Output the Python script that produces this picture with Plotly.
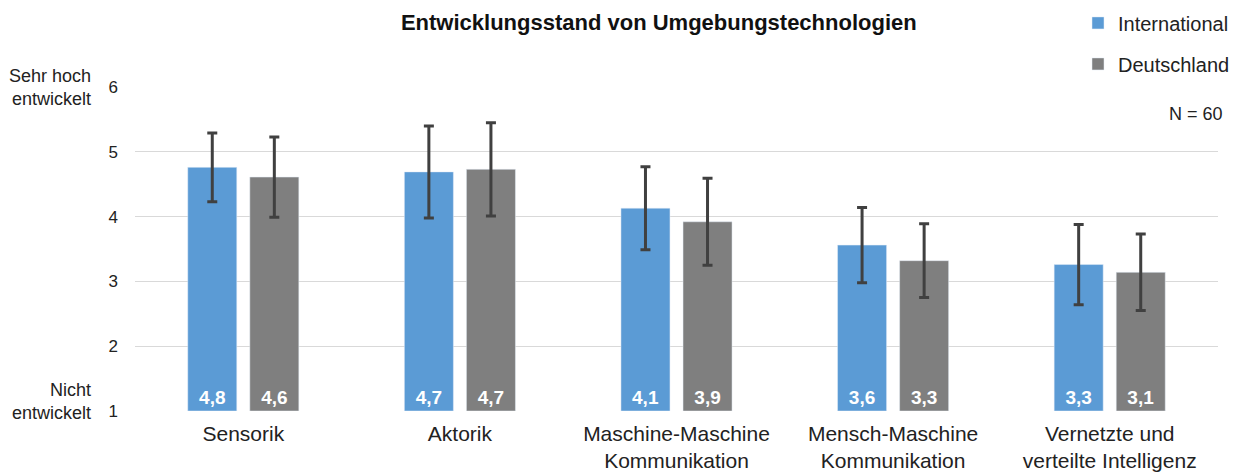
import plotly.graph_objects as go

categories = ["Sensorik", "Aktorik", "Maschine-Maschine<br>Kommunikation",
              "Mensch-Maschine<br>Kommunikation", "Vernetzte und<br>verteilte Intelligenz"]
international = [4.76, 4.69, 4.13, 3.56, 3.26]
international_err = [0.53, 0.71, 0.64, 0.58, 0.62]
deutschland = [4.61, 4.73, 3.92, 3.32, 3.14]
deutschland_err = [0.62, 0.72, 0.67, 0.57, 0.59]
y_ticks = [1, 2, 3, 4, 5, 6]
scale_min = 1  # bars start at the bottom of the 1..6 scale

FONT = "Liberation Sans, Arial, sans-serif"


def labels(vals):
    return [f"{v:.1f}".replace(".", ",") for v in vals]


def add_series(name, vals, errs, color, group):
    fig.add_trace(go.Bar(
        name=name, x=categories, y=[v - scale_min for v in vals], base=scale_min,
        marker=dict(color=color),
        error_y=dict(type="data", array=errs, color="#404040", thickness=3, width=5),
        text=labels(vals), textposition="inside", insidetextanchor="start",
        textangle=0, constraintext="none",
        textfont=dict(color="white", size=19, family=FONT, weight="bold"),
        legendgroup=group,
        customdata=vals, hovertemplate="%{x}: %{customdata}<extra>" + name + "</extra>",
    ))


fig = go.Figure()
add_series("International", international, international_err, "#5B9BD5", "a")
add_series("Deutschland", deutschland, deutschland_err, "#7F7F7F", "b")

fig.update_layout(
    width=1242, height=472,
    margin=dict(l=127, r=32, t=79, b=69, autoexpand=False),
    paper_bgcolor="white", plot_bgcolor="white",
    barmode="group", bargap=0.427, bargroupgap=0.21,
    font=dict(family=FONT, color="#222222"),
    title=dict(text="<b>Entwicklungsstand von Umgebungstechnologien</b>",
               x=0.524, xanchor="center", y=0.970, yanchor="middle",
               font=dict(size=22, color="#111111")),
    legend=dict(x=1.0157, xanchor="right", y=1.258, yanchor="top", yref="paper",
                font=dict(size=20, color="#222222"), tracegroupgap=12,
                bgcolor="rgba(0,0,0,0)"),
    showlegend=True,
    xaxis=dict(tickfont=dict(size=21, color="#222222"), showline=False, ticks="",
               automargin=False, ticklabelstandoff=8),
    yaxis=dict(range=[1, 6], tickvals=y_ticks, tickfont=dict(size=17, color="#222222"),
               gridcolor="#D9D9D9", gridwidth=1, zeroline=False, showline=False,
               ticklabelstandoff=16, automargin=False),
)

fig.add_annotation(text="Sehr hoch<br>entwickelt", xref="paper", yref="y",
                   x=-0.0388, xanchor="right", y=6, yanchor="middle", showarrow=False,
                   align="right", font=dict(size=18, color="#222222"))
fig.add_annotation(text="Nicht<br>entwickelt", xref="paper", yref="y",
                   x=-0.0388, xanchor="right", y=1.14, yanchor="middle", showarrow=False,
                   align="right", font=dict(size=18, color="#222222"))
fig.add_annotation(text="N = 60", xref="paper", yref="y",
                   x=1.0065, xanchor="right", y=5.59, yanchor="middle", showarrow=False,
                   font=dict(size=18, color="#222222"))

fig.write_html("out.html")
